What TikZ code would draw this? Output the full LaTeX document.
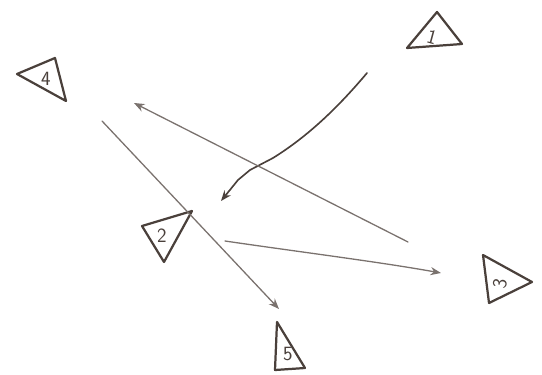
\documentclass[tikz,border=0pt]{standalone}
\usetikzlibrary{arrows.meta}

\definecolor{pen}{HTML}{4A403B}
\definecolor{pencil}{HTML}{7A726E}

\begin{document}
\begin{tikzpicture}[x=0.03cm, y=-0.03cm]
    \tikzstyle{tri}=[draw=pen, line width=1.9pt, line join=round, line cap=round]
    \tikzstyle{num}=[text=pen, font=\LARGE\sffamily, inner sep=0pt]
    \tikzstyle{link}=[draw=pencil, line width=1.1pt, line cap=round, -{Stealth[length=9pt, width=7pt]}]

    \useasboundingbox (0, 0) rectangle (542, 375);

    % triangles
    \draw[tri] (407, 48) -- (437, 12) -- (462, 44) -- cycle;
    \node[num, rotate=-15] (t1) at (432, 37) {1};

    \draw[tri] (17, 74) -- (55, 58) -- (66, 101) -- cycle;
    \node[num] (t4) at (46, 79) {4};

    \draw[tri] (142, 226) -- (192, 211) -- (164, 262) -- cycle;
    \node[num] (t2) at (162, 236) {2};

    \draw[tri] (483, 255) -- (532, 282) -- (489, 303) -- cycle;
    \node[num, rotate=80] (t3) at (500, 284) {3};

    \draw[tri] (277, 322) -- (305, 368) -- (275, 370) -- cycle;
    \node[num] (t5) at (288, 354) {5};

    % arrows
    \coordinate (a1) at (367, 73);
    \coordinate (b1) at (221, 201);
    \coordinate (a2) at (408, 242);
    \coordinate (b2) at (134, 103);
    \coordinate (a3) at (102, 121);
    \coordinate (b3) at (279, 309);
    \coordinate (a4) at (225, 241);
    \coordinate (b4) at (441, 273);

    \draw[link, draw=pen, line width=1.4pt] (a1) .. controls (340, 105) and (310, 135) .. (273, 158)
        -- (250, 170) -- (238, 180) -- (b1);
    \draw[link] (a2) -- (b2);
    \draw[link] (a3) -- (b3);
    \draw[link] (a4) .. controls (300, 252) and (380, 262) .. (b4);
\end{tikzpicture}
\end{document}
